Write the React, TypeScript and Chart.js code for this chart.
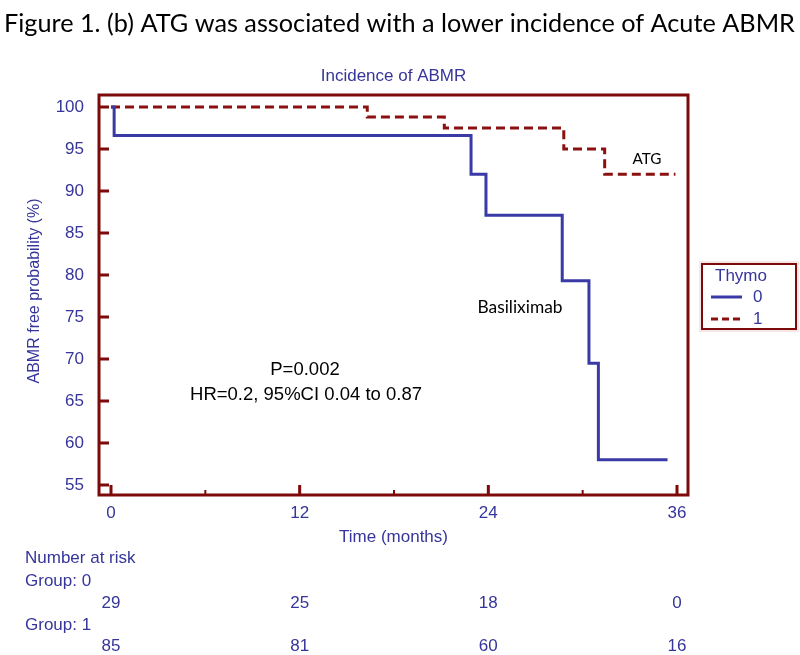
import React, { useEffect, useRef } from "react";
import { Chart, registerables } from "chart.js";

Chart.register(...registerables);

// ---------- data ----------
const figureTitle = "Figure 1. (b) ATG was associated with a lower incidence of Acute ABMR";
const plotTitle = "Incidence of ABMR";
const xTitle = "Time (months)";
const yTitle = "ABMR free probability (%)";
const xTicks = [0, 12, 24, 36];
const xMinorTicks = [6, 18, 30];
const yTicks = [55, 60, 65, 70, 75, 80, 85, 90, 95, 100];
const legendTitle = "Thymo";
const seriesNames = ["0", "1"];

// Kaplan-Meier steps (time in months, survival in %)
const group0Times = [0, 0.2, 22.9, 23.85, 28.7, 30.4, 31.0, 35.4];
const group0Values = [100, 96.6, 92.0, 87.1, 79.3, 69.5, 58.0, 58.0];
const group1Times = [0, 16.3, 21.2, 28.8, 31.4, 35.9];
const group1Values = [100, 98.8, 97.5, 95.0, 92.0, 92.0];

const riskTimes = [0, 12, 24, 36];
const riskGroup0 = [29, 25, 18, 0];
const riskGroup1 = [85, 81, 60, 16];
const riskHeader = "Number at risk";
const riskGroupLabels = ["Group: 0", "Group: 1"];

const pText = "P=0.002";
const hrText = "HR=0.2, 95%CI 0.04 to 0.87";
const curveNames = ["Basiliximab", "ATG"];

// ---------- styles ----------
const MAROON = "#7d0a0a";
const RED = "#8b1111";
const BLUE_LINE = "#3a3aa6";
const BLUE_TEXT = "#35359a";
const SANS = "'Liberation Sans', Arial, sans-serif";
const CAL = "Lato, 'Liberation Sans', sans-serif";

function fitFont(ctx: CanvasRenderingContext2D, text: string, family: string, target: number, base = 20) {
  ctx.font = `${base}px ${family}`;
  const w = ctx.measureText(text).width;
  const size = (base * target) / w;
  ctx.font = `${size}px ${family}`;
}

const drawPlugin = {
  id: "kmDecor",
  afterDraw(chart: any) {
    const ctx: CanvasRenderingContext2D = chart.ctx;
    const { left, right, top, bottom } = chart.chartArea;
    const xs = chart.scales.x;
    const ys = chart.scales.y;
    ctx.save();

    // plot frame
    ctx.strokeStyle = MAROON;
    ctx.lineWidth = 3;
    ctx.setLineDash([]);
    ctx.strokeRect(left, top, right - left, bottom - top);

    // inward ticks
    ctx.beginPath();
    for (const v of yTicks) {
      const py = ys.getPixelForValue(v);
      ctx.moveTo(left, py);
      ctx.lineTo(left + 10, py);
    }
    for (const v of xTicks) {
      const px = xs.getPixelForValue(v);
      ctx.moveTo(px, bottom);
      ctx.lineTo(px, bottom - 10);
    }
    ctx.stroke();
    ctx.lineWidth = 2;
    ctx.beginPath();
    for (const v of xMinorTicks) {
      const px = xs.getPixelForValue(v);
      ctx.moveTo(px, bottom);
      ctx.lineTo(px, bottom - 5);
    }
    ctx.stroke();

    // figure title
    ctx.fillStyle = "#000";
    ctx.textBaseline = "middle";
    ctx.textAlign = "left";
    fitFont(ctx, figureTitle, CAL, 791, 28);
    ctx.fillText(figureTitle, 4, 24);

    // plot title & axis titles
    const cx = (left + right) / 2;
    ctx.fillStyle = BLUE_TEXT;
    ctx.textAlign = "center";
    ctx.font = `17px ${SANS}`;
    ctx.fillText(plotTitle, cx, 76);
    ctx.fillText(xTitle, cx, 537);

    ctx.save();
    ctx.translate(35, 291);
    ctx.rotate(-Math.PI / 2);
    ctx.font = `16px ${SANS}`;
    ctx.fillText(yTitle, 0, 0);
    ctx.restore();

    // number at risk table
    ctx.textAlign = "left";
    ctx.font = `17px ${SANS}`;
    ctx.fillText(riskHeader, 25, 558);
    ctx.fillText(riskGroupLabels[0], 25, 581);
    ctx.fillText(riskGroupLabels[1], 25, 625);
    ctx.textAlign = "center";
    riskTimes.forEach((t, i) => {
      const px = xs.getPixelForValue(t);
      ctx.fillText(String(riskGroup0[i]), px, 603);
      ctx.fillText(String(riskGroup1[i]), px, 646);
    });

    // annotations
    ctx.fillStyle = "#000";
    ctx.font = `18.5px ${SANS}`;
    ctx.fillText(pText, 305, 370);
    ctx.fillText(hrText, 306, 395);
    fitFont(ctx, curveNames[0], CAL, 85, 17);
    ctx.fillText(curveNames[0], 520, 307);
    fitFont(ctx, curveNames[1], CAL, 29, 17);
    ctx.fillText(curveNames[1], 647, 159);

    // legend
    const lx = 702, ly = 264, lw = 94, lh = 65;
    ctx.fillStyle = "#f8e6e6";
    ctx.fillRect(lx - 3, ly - 3, lw + 6, lh + 6);
    ctx.fillStyle = "#fff";
    ctx.fillRect(lx, ly, lw, lh);
    ctx.strokeStyle = MAROON;
    ctx.lineWidth = 2;
    ctx.strokeRect(lx, ly, lw, lh);
    ctx.fillStyle = BLUE_TEXT;
    ctx.textAlign = "left";
    ctx.font = `17px ${SANS}`;
    ctx.fillText(legendTitle, 715, 276);
    ctx.fillText(seriesNames[0], 753, 297);
    ctx.fillText(seriesNames[1], 753, 319);
    ctx.lineWidth = 3;
    ctx.strokeStyle = BLUE_LINE;
    ctx.beginPath();
    ctx.moveTo(711, 297);
    ctx.lineTo(742, 297);
    ctx.stroke();
    ctx.strokeStyle = RED;
    ctx.setLineDash([7, 4]);
    ctx.beginPath();
    ctx.moveTo(711, 319);
    ctx.lineTo(742, 319);
    ctx.stroke();

    ctx.restore();
  },
};

export default function App() {
  const ref = useRef<HTMLCanvasElement | null>(null);

  useEffect(() => {
    if (!ref.current) return;
    const chart = new Chart(ref.current, {
      type: "line",
      data: {
        datasets: [
          {
            label: seriesNames[0],
            data: group0Times.map((t, i) => ({ x: t, y: group0Values[i] })),
            borderColor: BLUE_LINE,
            borderWidth: 3,
            stepped: "before",
            fill: false,
            pointRadius: 0,
          },
          {
            label: seriesNames[1],
            data: group1Times.map((t, i) => ({ x: t, y: group1Values[i] })),
            borderColor: RED,
            borderWidth: 3,
            borderDash: [9, 5],
            stepped: "before",
            fill: false,
            pointRadius: 0,
          },
        ],
      },
      options: {
        responsive: false,
        animation: false,
        layout: { padding: { left: 0, right: 112, top: 95, bottom: 120 } },
        plugins: {
          legend: { display: false },
          tooltip: { enabled: false },
          title: { display: false },
        },
        scales: {
          x: {
            type: "linear",
            min: -0.763,
            max: 36.7,
            grid: { display: false },
            border: { display: false },
            ticks: {
              color: BLUE_TEXT,
              font: { family: SANS, size: 17 },
              padding: 0,
              maxRotation: 0,
              autoSkip: false,
            },
            afterBuildTicks: (s: any) => {
              s.ticks = xTicks.map((v) => ({ value: v }));
            },
            afterFit: (s: any) => {
              s.height = 40;
            },
          },
          y: {
            type: "linear",
            min: 53.8,
            max: 101.43,
            grid: { display: false },
            border: { display: false },
            ticks: {
              color: BLUE_TEXT,
              font: { family: SANS, size: 17 },
              padding: 7,
              autoSkip: false,
            },
            afterBuildTicks: (s: any) => {
              s.ticks = yTicks.map((v) => ({ value: v }));
            },
            afterFit: (s: any) => {
              s.width = 99;
            },
          },
        },
      },
      plugins: [drawPlugin],
    } as any);
    return () => chart.destroy();
  }, []);

  return (
    <div style={{ position: "absolute", left: 0, top: 0, width: 800, height: 655, background: "#fff" }}>
      <canvas ref={ref} width={800} height={655} style={{ width: 800, height: 655, display: "block" }} />
    </div>
  );
}
